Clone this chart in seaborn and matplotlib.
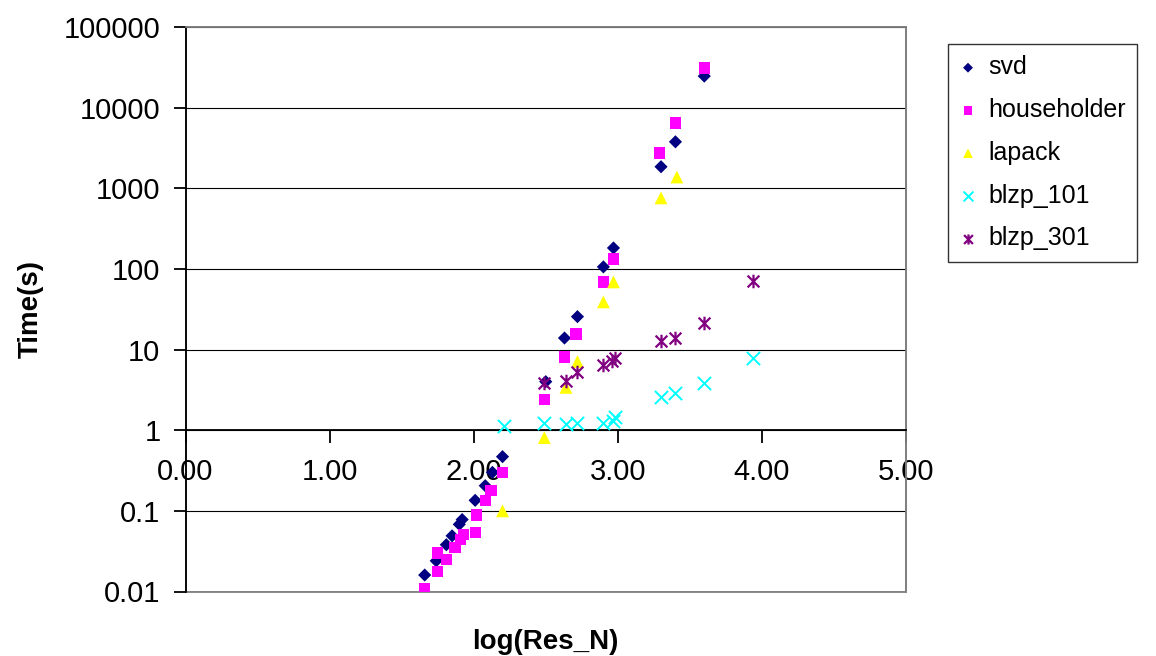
import numpy as np
import pandas as pd
import matplotlib
matplotlib.use("Agg")
import matplotlib.pyplot as plt
import seaborn as sns
from matplotlib.path import Path
from matplotlib.ticker import FixedLocator, FixedFormatter, NullLocator
from matplotlib.patches import Rectangle

# ---------------- data ----------------
svd_x = [1.66, 1.74, 1.81, 1.85, 1.90, 1.92, 2.01, 2.08, 2.13, 2.20,
         2.50, 2.63, 2.72, 2.90, 2.97, 3.30, 3.40, 3.60]
svd_y = [0.016, 0.024, 0.038, 0.049, 0.068, 0.078, 0.135, 0.205, 0.30, 0.47,
         4.0, 13.9, 25.6, 106, 182, 1850, 3770, 24600]

hh_x = [1.66, 1.75, 1.75, 1.81, 1.87, 1.91, 1.93, 2.01, 2.02, 2.08, 2.12, 2.20,
        2.49, 2.63, 2.71, 2.90, 2.97, 3.29, 3.40, 3.60]
hh_y = [0.0108, 0.0178, 0.030, 0.025, 0.035, 0.044, 0.051, 0.054, 0.089, 0.135, 0.18, 0.30,
        2.4, 8.1, 15.6, 69, 133, 2740, 6440, 31000]

lapack_x = [2.20, 2.49, 2.64, 2.72, 2.90, 2.97, 3.30, 3.41]
lapack_y = [0.10, 0.81, 3.4, 7.1, 39, 69, 760, 1380]

b101_x = [2.21, 2.49, 2.64, 2.72, 2.90, 2.97, 2.98, 3.30, 3.40, 3.60, 3.94]
b101_y = [1.14, 1.24, 1.20, 1.24, 1.24, 1.31, 1.47, 2.6, 2.9, 3.8, 7.9]

b301_x = [2.49, 2.64, 2.72, 2.90, 2.96, 2.98, 3.30, 3.40, 3.60, 3.94]
b301_y = [3.9, 4.1, 5.3, 6.5, 7.2, 7.8, 12.9, 14.0, 21.5, 71]

series_names = ["svd", "householder", "lapack", "blzp_101", "blzp_301"]

yticks = [0.01, 0.1, 1, 10, 100, 1000, 10000, 100000]
ytick_labels = ["0.01", "0.1", "1", "10", "100", "1000", "10000", "100000"]
xticks = [0, 1, 2, 3, 4, 5]
xtick_labels = ["0.00", "1.00", "2.00", "3.00", "4.00", "5.00"]

# ---------------- style ----------------
sns.set_theme(style="white")
plt.rcParams["font.family"] = ["Liberation Sans", "DejaVu Sans"]
plt.rcParams["text.color"] = "black"
plt.rcParams["axes.labelcolor"] = "black"
plt.rcParams["xtick.color"] = "black"
plt.rcParams["ytick.color"] = "black"

W, H = 1156, 656
fig = plt.figure(figsize=(W / 100, H / 100), dpi=100)
ax = fig.add_axes([185.5 / W, 1 - 591.5 / H, (906 - 185.5) / W, (591.5 - 27) / H])

asterisk = Path(
    [(-1, -1), (1, 1), (-1, 1), (1, -1), (0, -1.15), (0, 1.15)],
    [Path.MOVETO, Path.LINETO, Path.MOVETO, Path.LINETO, Path.MOVETO, Path.LINETO],
)

specs = [
    (svd_x, svd_y, "D", "#000080", 45, 0.0),
    (hh_x, hh_y, "s", "#FF00FF", 65, 0.0),
    (lapack_x, lapack_y, "^", "#FFFF00", 85, 0.0),
    (b101_x, b101_y, "x", "#00FFFF", 90, 1.4),
    (b301_x, b301_y, asterisk, "#800080", 95, 1.6),
]

for name, (xs, ys, mk, col, size, lw) in zip(series_names, specs):
    df = pd.DataFrame({"x": xs, "y": ys})
    kw = {}
    if lw > 0:
        kw["linewidth"] = lw
        if mk is asterisk:
            kw["edgecolor"] = col
    else:
        kw["edgecolor"] = "none"
    sns.scatterplot(data=df, x="x", y="y", marker=mk, color=col, s=size,
                    label=name, ax=ax, zorder=3, **kw)

ax.set_yscale("log")
ax.set_xlim(0, 5)
ax.set_ylim(0.01, 100000)

ax.yaxis.set_major_locator(FixedLocator(yticks))
ax.yaxis.set_major_formatter(FixedFormatter(ytick_labels))
ax.yaxis.set_minor_locator(NullLocator())
ax.xaxis.set_major_locator(FixedLocator(xticks))
ax.xaxis.set_major_formatter(FixedFormatter(xtick_labels))

ax.yaxis.grid(True, color="black", linewidth=0.8)
ax.xaxis.grid(False)
ax.set_axisbelow(True)

# axes: x axis crosses at y = 1
ax.spines["bottom"].set_position(("data", 1))
ax.spines["bottom"].set_color("black")
ax.spines["bottom"].set_linewidth(1.3)
ax.spines["left"].set_color("black")
ax.spines["left"].set_linewidth(1.3)
for s in ["top", "right"]:
    ax.spines[s].set_color("#808080")
    ax.spines[s].set_linewidth(1.3)
ax.add_patch(Rectangle((0, 0), 1, 1, transform=ax.transAxes, fill=False,
                       edgecolor="#808080", linewidth=1.3, zorder=0.5, clip_on=False))

ax.tick_params(axis="x", direction="out", length=9, width=1.3, color="black",
               labelsize=21, pad=11, bottom=True, labelcolor="black")
ax.tick_params(axis="y", direction="out", length=9, width=1.3, color="black",
               labelsize=21, pad=9, left=True, labelcolor="black")

ax.set_xlabel("log(Res_N)", fontsize=20, fontweight="bold", color="black")
ax.set_ylabel("Time(s)", fontsize=20, fontweight="bold", color="black")
ax.xaxis.set_label_coords(0.5, -0.066)
ax.yaxis.set_label_coords(-0.197, 0.5)

handles, labels = ax.get_legend_handles_labels()
if ax.get_legend() is not None:
    ax.get_legend().remove()
leg = fig.legend(handles, labels, loc="upper left", bbox_to_anchor=(948 / W, 1 - 44 / H),
                 frameon=True, fancybox=False, shadow=False, fontsize=18,
                 markerscale=0.75, handlelength=0.7, handletextpad=0.45,
                 borderpad=0.45, labelspacing=0.75, borderaxespad=0)
for t in leg.get_texts():
    t.set_color("black")
leg.get_frame().set_edgecolor("black")
leg.get_frame().set_linewidth(1.0)
leg.get_frame().set_facecolor("white")

fig.savefig("out.png", dpi=100)
